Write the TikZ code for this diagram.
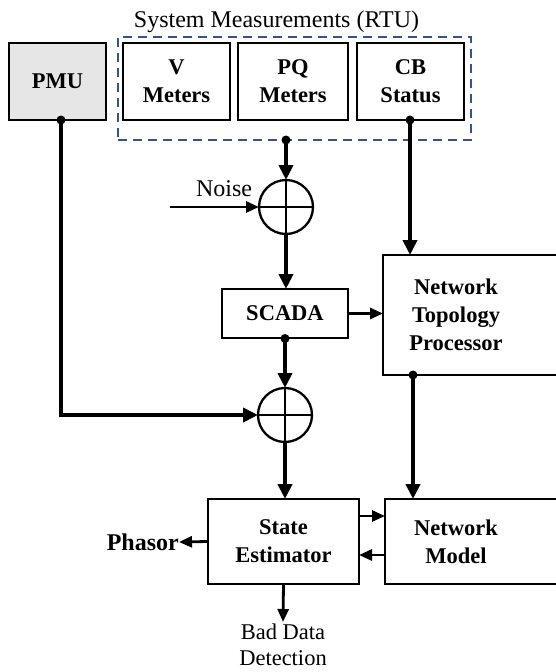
\documentclass[tikz,border=0pt]{standalone}
\usepackage{fontspec}
\setmainfont{Liberation Serif}
\usetikzlibrary{arrows.meta,shapes.geometric}
\definecolor{dashblue}{RGB}{47,85,151}
\definecolor{pmugrey}{RGB}{230,230,230}
\tikzset{
  box/.style={draw, line width=2.3pt, outer sep=0pt, inner sep=0pt, align=center,
    font=\fontsize{22.5}{28}\selectfont\bfseries},
  lbl/.style={inner sep=0pt, align=center, font=\fontsize{22.5}{28}\selectfont\bfseries},
  sumnode/.style={draw, circle, line width=2.3pt, minimum size=54pt, inner sep=0pt, outer sep=0pt},
  thickarrow/.style={line width=4.5pt, -{Triangle[length=15pt,width=14pt]}},
  thinarrow/.style={line width=2.8pt, -{Triangle[length=13pt,width=11pt]}},
  thickline/.style={line width=4.5pt},
  dotmark/.style={fill=black, circle, inner sep=0pt, minimum size=9pt},
}
\begin{document}
\begin{tikzpicture}[x=1pt,y=-1pt]
\useasboundingbox (0,0) rectangle (556,672);
\clip (0,0) rectangle (556,672);
% title and dashed group
\node[inner sep=0pt, font=\fontsize{24}{28}\selectfont] (title) at (276.5,22) {System Measurements (RTU)};
\node[draw=dashblue, line width=2.5pt, dash pattern=on 9pt off 6pt, minimum width=353pt, minimum height=103pt, inner sep=0pt] (rtu) at (294.5,88.5) {};
% top boxes
\node[box, fill=pmugrey, minimum width=97pt, minimum height=77pt] (pmu) at (57.5,81.5) {PMU};
\node[box, minimum width=107pt, minimum height=77pt] (v) at (176.5,81.5) {V\\Meters};
\node[box, minimum width=110pt, minimum height=77pt] (pq) at (293,81.5) {PQ\\Meters};
\node[box, minimum width=107pt, minimum height=77pt] (cb) at (410.5,81.5) {CB\\Status};
% summing junctions
\node[sumnode] (c1) at (286,207) {};
\draw[line width=2.3pt] (c1.north) -- (c1.south) (c1.west) -- (c1.east);
\node[sumnode] (c2) at (285,415) {};
\draw[line width=2.3pt] (c2.north) -- (c2.south) (c2.west) -- (c2.east);
% middle boxes
\node[box, minimum width=126pt, minimum height=49pt] (scada) at (285,313.5) {SCADA};
\node[box, minimum width=190pt, minimum height=120pt, anchor=west] (ntp) at (383,315) {};
\node[lbl] (ntptext) at (456,315) {Network\\Topology\\Processor};
% bottom boxes
\node[box, minimum width=151pt, minimum height=85pt] (se) at (283.5,541.5) {State\\Estimator};
\node[box, minimum width=190pt, minimum height=85pt, anchor=west] (nm) at (385,541.5) {};
\node[lbl] (nmtext) at (456,541.5) {Network\\Model};
% labels
\node[inner sep=0pt, font=\fontsize{24}{28}\selectfont] (noise) at (224,189) {Noise};
\node[inner sep=0pt, anchor=east, font=\fontsize{24}{28}\selectfont\bfseries] (phasor) at (179,542) {Phasor};
\node[inner sep=0pt, align=center, font=\fontsize{22.5}{26}\selectfont] (bad) at (283,645) {Bad Data\\Detection};
% coordinates
\coordinate (pqout) at (286,140);
\coordinate (noisein) at (170,207);
\coordinate (pmuout) at (61,120);
\coordinate (pmucorner) at (61,415);
\coordinate (cbout) at (410,120);
\coordinate (scout) at (285,338.5);
\coordinate (ntpout) at (413,375);
\coordinate (se2nmA) at (359,516);
\coordinate (se2nmB) at (385,516);
\coordinate (nm2seA) at (385,555);
\coordinate (nm2seB) at (359,555);
\coordinate (badtip) at (283,622);
% dots
\node[dotmark] at (pqout) {};
\node[dotmark] at (pmuout) {};
\node[dotmark] at (cbout) {};
\node[dotmark] at (scout) {};
\node[dotmark] at (ntpout) {};
% connectors
\draw[thickarrow] (pqout) -- (c1.north);
\draw[thinarrow] (noisein) -- (c1.west);
\draw[thickarrow] (c1.south) -- (c1.south |- scada.north);
\draw[thickarrow] (cbout) -- (cbout |- ntp.north);
\draw[thinarrow] (scada.east) -- (scada.east -| ntp.west);
\draw[thickarrow] (scout) -- (c2.north);
\draw[thickline] (pmuout) -- (pmucorner);
\draw[thickarrow] ([xshift=-2.25pt]pmucorner) -- (c2.west);
\draw[thickarrow] (c2.south) -- (c2.south |- se.north);
\draw[thickarrow] (ntpout) -- (ntpout |- nm.north);
\draw[thinarrow] (se2nmA) -- (se2nmB);
\draw[thinarrow] (nm2seA) -- (nm2seB);
\draw[thinarrow] (se.west) -- (phasor.east);
\draw[thinarrow] (se.south) -- (badtip);
\end{tikzpicture}
\end{document}
